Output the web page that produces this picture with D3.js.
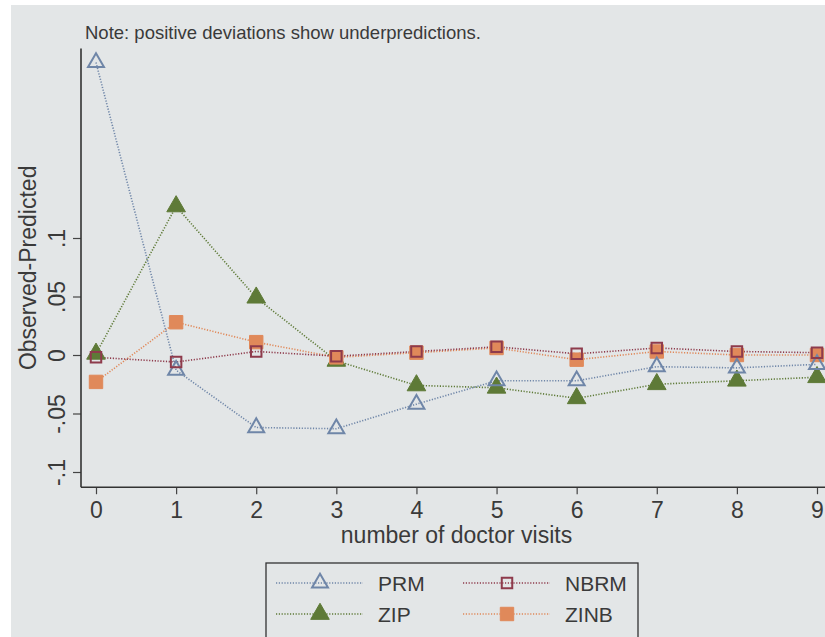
<!DOCTYPE html>
<html>
<head>
<meta charset="utf-8">
<script src="https://cdn.jsdelivr.net/npm/d3@7"></script>
<style>
  body { margin: 0; background: #fff; }
  text { font-family: "Liberation Sans", Arial, sans-serif; fill: #3a3a3a; }
</style>
</head>
<body>
<svg id="chart" width="825" height="637"></svg>
<script>
// number of doctor visits
var visits = [0, 1, 2, 3, 4, 5, 6, 7, 8, 9];
// observed - predicted
var prm  = [0.250, -0.013, -0.062, -0.063, -0.042, -0.022, -0.022, -0.010, -0.011, -0.008];
var zip  = [0.001, 0.127, 0.049, -0.005, -0.026, -0.028, -0.037, -0.025, -0.022, -0.019];
var nbrm = [-0.002, -0.006, 0.003, -0.001, 0.003, 0.007, 0.001, 0.006, 0.003, 0.002];
var zinb = [-0.023, 0.028, 0.011, -0.002, 0.002, 0.006, -0.004, 0.003, 0.000, 0.000];
var yTicks = [-0.1, -0.05, 0, 0.05, 0.1];
var yTickLabels = ["-.1", "-.05", "0", ".05", ".1"];

var svg = d3.select("#chart");

svg.append("rect").attr("x", 11).attr("y", 5).attr("width", 814).attr("height", 632)
    .attr("fill", "#e3e6e7");

var x = d3.scaleLinear().domain([0, 9]).range([96, 817]);
var y = d3.scaleLinear().domain([-0.1, 0.1]).range([472, 238]);

var yTop = y(0.262), yBot = y(-0.113);

// axes
var xAxis = d3.axisBottom(x).tickValues(visits).tickSize(7).tickPadding(7).tickFormat(d3.format("d"));
var gx = svg.append("g").attr("transform", "translate(0," + yBot + ")").call(xAxis);
gx.select(".domain").remove();
svg.append("line").attr("x1", 81).attr("x2", 825).attr("y1", yBot).attr("y2", yBot)
    .attr("stroke", "#333").attr("stroke-width", 1.6);
gx.selectAll("line").attr("stroke", "#444").attr("stroke-width", 1.2);
gx.selectAll("text").style("font-size", "23px").attr("fill", "#3a3a3a")
    .style("font-family", "'Liberation Sans', Arial, sans-serif");

var yAxis = d3.axisLeft(y).tickValues(yTicks).tickSize(8).tickPadding(0)
    .tickFormat(function(d, i) { return yTickLabels[i]; });
var gy = svg.append("g").attr("transform", "translate(81,0)").call(yAxis);
gy.select(".domain").remove();
svg.append("line").attr("x1", 81).attr("x2", 81).attr("y1", yTop).attr("y2", yBot)
    .attr("stroke", "#333").attr("stroke-width", 1.6);
gy.selectAll("line").attr("stroke", "#444").attr("stroke-width", 1.2);
gy.selectAll("text")
    .attr("x", 0).attr("dy", null)
    .attr("transform", "translate(-24,0) rotate(-90)")
    .attr("text-anchor", "middle").attr("dominant-baseline", "central")
    .style("font-size", "23px").attr("fill", "#3a3a3a")
    .style("font-family", "'Liberation Sans', Arial, sans-serif");

svg.append("text").attr("transform", "translate(28," + ((yTop + yBot) / 2) + ") rotate(-90)")
    .attr("text-anchor", "middle").attr("dominant-baseline", "central").style("font-size", "23px")
    .text("Observed-Predicted");

svg.append("text").attr("x", x(4.5)).attr("y", 543).attr("text-anchor", "middle")
    .style("font-size", "23px").text("number of doctor visits");

svg.append("text").attr("x", 85).attr("y", 39).style("font-size", "18.5px")
    .text("Note: positive deviations show underpredictions.");

// series
var series = [
  { name: "PRM",  values: prm,  color: "#6f86a8", shape: d3.symbolTriangle, fill: false },
  { name: "NBRM", values: nbrm, color: "#8e3b4c", shape: d3.symbolSquare,   fill: false },
  { name: "ZIP",  values: zip,  color: "#5e7a37", shape: d3.symbolTriangle, fill: true },
  { name: "ZINB", values: zinb, color: "#e0895a", shape: d3.symbolSquare,   fill: true }
];

var line = d3.line().x(function(d, i) { return x(visits[i]); }).y(function(d) { return y(d); });

function marker(g, s) {
  var size = s.shape === d3.symbolTriangle ? (s.fill ? 150 : 110) : (s.fill ? 180 : 110);
  g.append("path")
    .attr("d", d3.symbol().type(s.shape).size(size))
    .attr("fill", s.fill ? s.color : "none")
    .attr("stroke", s.color)
    .attr("stroke-width", s.fill ? 1 : 2);
}

// draw lines first, then markers on top
var drawOrder = [series[2], series[3], series[0], series[1]];
drawOrder.forEach(function(s) {
  svg.append("path").datum(s.values).attr("d", line)
    .attr("fill", "none").attr("stroke", s.color).attr("stroke-width", 1.6)
    .attr("stroke-dasharray", "1.2,1.6");
});
drawOrder.forEach(function(s) {
  s.values.forEach(function(v, i) {
    var g = svg.append("g").attr("transform", "translate(" + x(visits[i]) + "," + y(v) + ")");
    marker(g, s);
  });
});

// legend
var legend = svg.append("g");
legend.append("rect").attr("x", 266).attr("y", 563).attr("width", 372).attr("height", 80)
    .attr("fill", "#e3e6e7").attr("stroke", "#333").attr("stroke-width", 1.3);
var legendItems = [
  { s: series[0], cx: 320, cy: 583 },
  { s: series[1], cx: 507, cy: 583 },
  { s: series[2], cx: 320, cy: 614 },
  { s: series[3], cx: 507, cy: 614 }
];
legendItems.forEach(function(it) {
  legend.append("line").attr("x1", it.cx - 44).attr("x2", it.cx + 43)
    .attr("y1", it.cy).attr("y2", it.cy)
    .attr("stroke", it.s.color).attr("stroke-width", 1.6).attr("stroke-dasharray", "1.2,1.6");
  var g = legend.append("g").attr("transform", "translate(" + it.cx + "," + it.cy + ")");
  marker(g, it.s);
  legend.append("text").attr("x", it.cx + 58).attr("y", it.cy).attr("dominant-baseline", "central")
    .style("font-size", "21px").text(it.s.name);
});
</script>
</body>
</html>
